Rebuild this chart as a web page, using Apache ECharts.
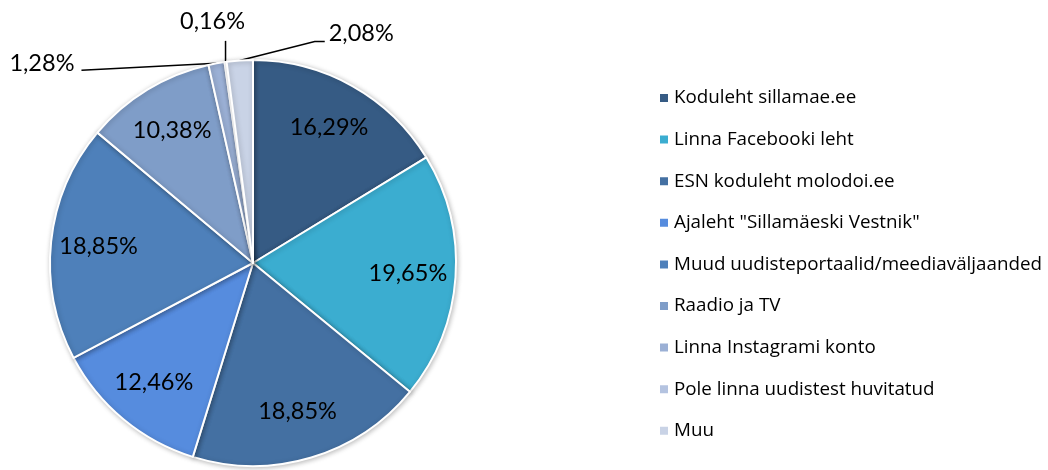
<!DOCTYPE html>
<html>
<head>
<meta charset="utf-8">
<script src="https://cdn.jsdelivr.net/npm/echarts@6/dist/echarts.min.js"></script>
<style>
  html, body { margin: 0; padding: 0; background: #ffffff; }
  #chart { width: 1048px; height: 470px; }
</style>
</head>
<body>
<div id="chart"></div>
<script>
// Survey: where residents get city news (share of answers, %)
const categories = [
  'Koduleht sillamae.ee',
  'Linna Facebooki leht',
  'ESN koduleht molodoi.ee',
  'Ajaleht "Sillamäeski Vestnik"',
  'Muud uudisteportaalid/meediaväljaanded',
  'Raadio ja TV',
  'Linna Instagrami konto',
  'Pole linna uudistest huvitatud',
  'Muu'
];
const shares = [16.29, 19.65, 18.85, 12.46, 18.85, 10.38, 1.28, 0.16, 2.08];
const sliceColors = ['#365b84', '#3badd0', '#4470a2', '#568cde', '#4e80ba', '#7f9dc8', '#9bb0d5', '#b4c3e0', '#c9d3e6'];

// Slices smaller than this get an outside callout instead of an inside label
const INSIDE_MIN = 5;

// Callout placement for the thin slices, relative to the slice's rim point
const callouts = {
  6: { line: [[-135, 7]], label: [-142, 0], align: 'right' },
  7: { line: [[0, -21]], label: [-13, -40], align: 'center' },
  8: { line: [[75, -19], [85, -19]], label: [89, -27], align: 'left' }
};

const fmt = v => v.toFixed(2).replace('.', ',') + '%';
const FONT = 'Lato, "Open Sans", sans-serif';
const LEGEND_FONT = '"Open Sans", Lato, sans-serif';

const chart = echarts.init(document.getElementById('chart'), null, { renderer: 'canvas' });

const center = [253, 263];
const R = 203;

chart.setOption({
  animation: false,
  backgroundColor: '#ffffff',
  legend: {
    orient: 'vertical',
    left: 653,
    top: 83,
    itemWidth: 10,
    itemHeight: 10,
    itemGap: 21.6,
    icon: 'rect',
    selectedMode: false,
    data: categories,
    textStyle: {
      fontFamily: LEGEND_FONT,
      fontSize: 18.8,
      color: '#000000',
      lineHeight: 20
    }
  },
  series: [
    {
      // the pie itself, plus callouts for the thin slices
      type: 'pie',
      center: center,
      radius: [0, R],
      startAngle: 90,
      clockwise: true,
      avoidLabelOverlap: false,
      silent: true,
      itemStyle: {
        borderColor: '#ffffff',
        borderWidth: 2,
        shadowBlur: 5,
        shadowColor: 'rgba(0,0,0,0.25)',
        shadowOffsetX: 1,
        shadowOffsetY: 1
      },
      data: categories.map((name, i) => ({
        name: name,
        value: shares[i],
        itemStyle: { color: sliceColors[i] },
        label: { show: shares[i] < INSIDE_MIN },
        labelLine: { show: shares[i] < INSIDE_MIN }
      })),
      label: {
        position: 'outside',
        formatter: p => fmt(p.value),
        fontFamily: FONT,
        fontSize: 23.5,
        color: '#000000'
      },
      labelLine: {
        length: 5,
        length2: 10,
        lineStyle: { color: '#000000', width: 1.5 }
      },
      labelLayout: function (p) {
        const c = callouts[p.dataIndex];
        const pts = p.labelLinePoints;
        if (!c || !pts) return {};
        const e = pts[0];
        const linePts = [[e[0], e[1]]].concat(c.line.map(d => [e[0] + d[0], e[1] + d[1]]));
        while (linePts.length < 3) linePts.push(linePts[linePts.length - 1].slice());
        return {
          x: e[0] + c.label[0],
          y: e[1] + c.label[1],
          align: c.align,
          verticalAlign: 'middle',
          labelLinePoints: linePts
        };
      }
    },
    {
      // transparent ring that carries the inside labels at 3/4 of the radius
      type: 'pie',
      center: center,
      radius: [R / 2, R],
      startAngle: 90,
      clockwise: true,
      silent: true,
      avoidLabelOverlap: false,
      itemStyle: { color: 'rgba(0,0,0,0)', borderWidth: 0 },
      emphasis: { disabled: true },
      legendHoverLink: false,
      data: categories.map((name, i) => ({
        name: name + ' ',
        value: shares[i],
        label: { show: shares[i] >= INSIDE_MIN }
      })),
      label: {
        position: 'inside',
        formatter: p => fmt(p.value),
        fontFamily: FONT,
        fontSize: 23.5,
        color: '#000000'
      },
      labelLine: { show: false }
    }
  ]
});
</script>
</body>
</html>
